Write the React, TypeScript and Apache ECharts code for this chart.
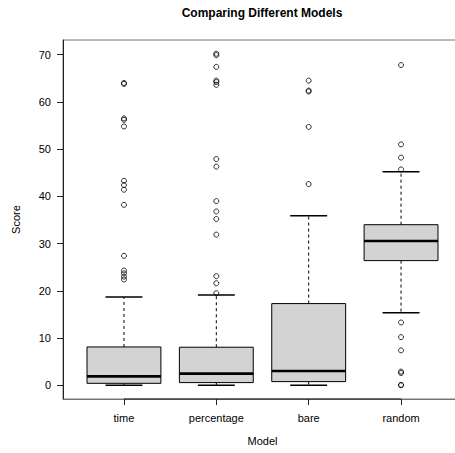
import React, { useEffect, useRef } from "react";
import * as echarts from "echarts";

const categories = ["time", "percentage", "bare", "random"];
const lowerWhisker = [0, 0, 0, 15.35];
const q1 = [0.42, 0.57, 0.78, 26.4];
const medians = [1.9, 2.48, 3.04, 30.55];
const q3 = [8.12, 8.06, 17.3, 34.0];
const upperWhisker = [18.67, 19.1, 35.9, 45.2];

const outliersTime = [64.0, 63.8, 56.5, 56.2, 54.8, 43.3, 42.4, 41.4, 38.2, 27.4, 24.3, 23.7, 23.0, 22.4];
const outliersPercentage = [70.2, 69.9, 67.4, 64.5, 64.2, 63.6, 47.9, 46.3, 39.0, 36.8, 35.2, 31.9, 23.1, 21.6, 19.5];
const outliersBare = [64.5, 62.4, 62.2, 54.7, 42.6];
const outliersRandom = [67.8, 51.0, 48.2, 45.7, 13.3, 10.2, 7.4, 2.9, 2.6, 0.1, 0.0];

const yTicks = [0, 10, 20, 30, 40, 50, 60, 70];
const xPositions = [1, 2, 3, 4];

const FONT = "Liberation Sans, Arial, Helvetica, sans-serif";

export default function App() {
  const ref = useRef<HTMLDivElement>(null);
  useEffect(() => {
    if (!ref.current) return;
    const chart = echarts.init(ref.current, undefined, { renderer: "svg" });

    const boxData = categories.map((_, i) => [
      xPositions[i],
      lowerWhisker[i],
      q1[i],
      medians[i],
      q3[i],
      upperWhisker[i],
    ]);
    const outlierGroups = [outliersTime, outliersPercentage, outliersBare, outliersRandom];
    const outlierData: number[][] = [];
    outlierGroups.forEach((g, i) => g.forEach((v) => outlierData.push([xPositions[i], v])));

    chart.setOption({
      animation: false,
      backgroundColor: "#ffffff",
      textStyle: { fontFamily: FONT },
      graphic: [
        {
          type: "text",
          x: 262,
          y: 13,
          style: {
            text: "Comparing Different Models",
            fontFamily: FONT,
            fontSize: 12,
            fontWeight: "bold",
            fill: "#000",
            textAlign: "center",
            textVerticalAlign: "middle",
          },
        },
      ],
      grid: {
        left: 63,
        top: 40,
        width: 399,
        height: 359,
        show: true,
        borderColor: "#777",
        borderWidth: 1,
        backgroundColor: "transparent",
        containLabel: false,
        outerBoundsMode: "none",
      },
      xAxis: {
        type: "value",
        min: 0.34,
        max: 4.66,
        name: "Model",
        nameLocation: "middle",
        nameGap: 36,
        nameTextStyle: { fontFamily: FONT, fontSize: 11, color: "#000" },
        axisLine: { show: true, onZero: false, lineStyle: { color: "#777", width: 1 } },
        splitLine: { show: false },
        axisTick: {
          show: true,
          length: 6,
          customValues: xPositions,
          lineStyle: { color: "#222", width: 1 },
        },
        axisLabel: {
          customValues: xPositions,
          margin: 13,
          fontFamily: FONT,
          fontSize: 11,
          color: "#000",
          formatter: (v: number) => categories[Math.round(v) - 1] ?? "",
        },
      },
      yAxis: {
        type: "value",
        min: -2.9,
        max: 73.1,
        name: "Score",
        nameLocation: "middle",
        nameGap: 42,
        nameTextStyle: { fontFamily: FONT, fontSize: 11, color: "#000" },
        axisLine: { show: true, onZero: false, lineStyle: { color: "#222", width: 1 } },
        splitLine: { show: false },
        axisTick: {
          show: true,
          length: 6,
          customValues: yTicks,
          lineStyle: { color: "#222", width: 1 },
        },
        axisLabel: {
          customValues: yTicks,
          margin: 12,
          fontFamily: FONT,
          fontSize: 11,
          color: "#000",
        },
      },
      series: [
        {
          type: "custom",
          name: "axisSegment",
          silent: true,
          z: 5,
          data: [[xPositions[0], xPositions[xPositions.length - 1]]],
          renderItem: (params: any, api: any) => {
            const cs = params.coordSys;
            const a = api.coord([api.value(0), 0]);
            const b = api.coord([api.value(1), 0]);
            const yb = cs.y + cs.height;
            return {
              type: "line",
              shape: { x1: a[0], y1: yb, x2: b[0], y2: yb },
              style: { stroke: "#222", lineWidth: 1 },
            };
          },
        },
        {
          type: "custom",
          name: "boxes",
          z: 3,
          data: boxData,
          renderItem: (params: any, api: any) => {
            const x = api.value(0);
            const lw = api.value(1);
            const lq = api.value(2);
            const md = api.value(3);
            const uq = api.value(4);
            const uw = api.value(5);
            const boxW = api.size([0.8, 0])[0];
            const capW = api.size([0.4, 0])[0];
            const pLw = api.coord([x, lw]);
            const pLq = api.coord([x, lq]);
            const pMd = api.coord([x, md]);
            const pUq = api.coord([x, uq]);
            const pUw = api.coord([x, uw]);
            const cx = pMd[0];
            return {
              type: "group",
              children: [
                {
                  type: "line",
                  shape: { x1: cx, y1: pUq[1], x2: cx, y2: pUw[1] },
                  style: { stroke: "#000", lineWidth: 1, lineDash: [3, 3] },
                },
                {
                  type: "line",
                  shape: { x1: cx, y1: pLq[1], x2: cx, y2: pLw[1] },
                  style: { stroke: "#000", lineWidth: 1, lineDash: [3, 3] },
                },
                {
                  type: "line",
                  shape: { x1: cx - capW / 2, y1: pUw[1], x2: cx + capW / 2, y2: pUw[1] },
                  style: { stroke: "#000", lineWidth: 1.5 },
                },
                {
                  type: "line",
                  shape: { x1: cx - capW / 2, y1: pLw[1], x2: cx + capW / 2, y2: pLw[1] },
                  style: { stroke: "#000", lineWidth: 1.5 },
                },
                {
                  type: "rect",
                  shape: { x: cx - boxW / 2, y: pUq[1], width: boxW, height: pLq[1] - pUq[1] },
                  style: { fill: "#D3D3D3", stroke: "#000", lineWidth: 1 },
                },
                {
                  type: "line",
                  shape: { x1: cx - boxW / 2, y1: pMd[1], x2: cx + boxW / 2, y2: pMd[1] },
                  style: { stroke: "#000", lineWidth: 2.6 },
                },
              ],
            };
          },
        },
        {
          type: "scatter",
          name: "outliers",
          z: 4,
          data: outlierData,
          symbol: "circle",
          symbolSize: 5,
          itemStyle: {
            color: "rgba(0,0,0,0)",
            borderColor: "#000",
            borderWidth: 1,
          },
        },
      ],
    });
    return () => chart.dispose();
  }, []);
  return (
    <div
      ref={ref}
      style={{ position: "absolute", left: 0, top: 0, width: 455, height: 453 }}
    />
  );
}
